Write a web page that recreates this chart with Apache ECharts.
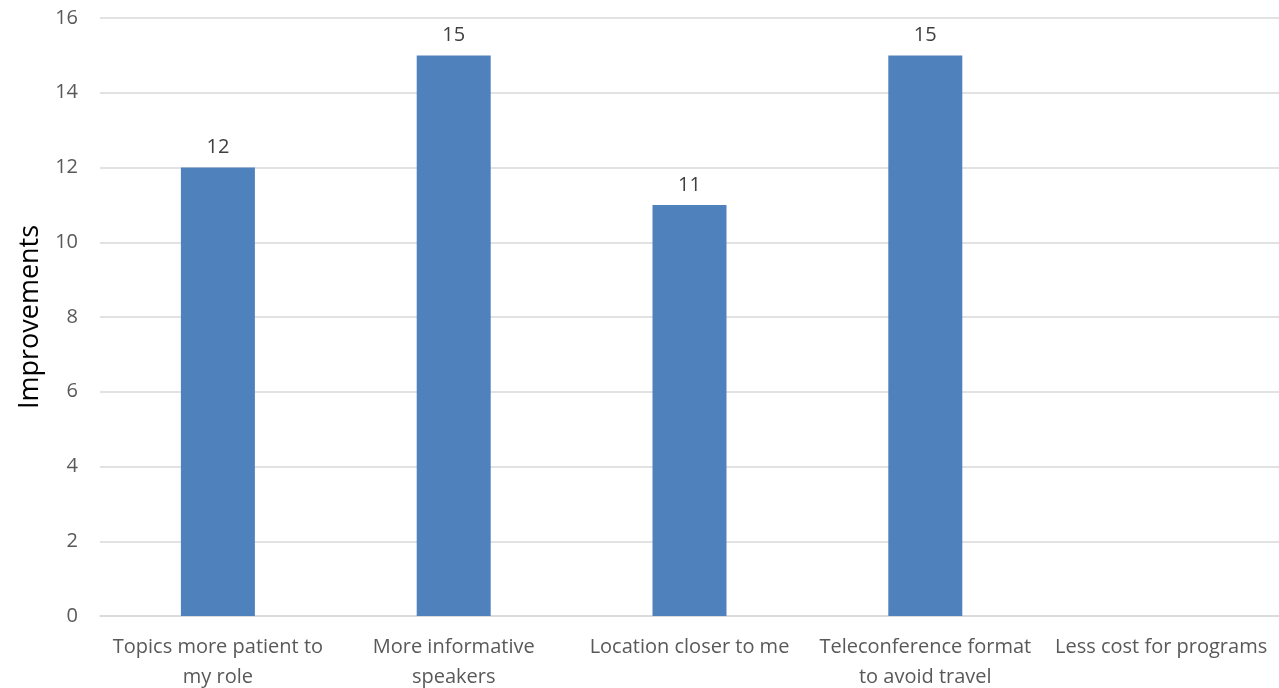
<!DOCTYPE html>
<html><head><meta charset="utf-8">
<script src="https://cdn.jsdelivr.net/npm/echarts@6/dist/echarts.min.js"></script>
<style>html,body{margin:0;padding:0;background:#fff}#c{width:1279px;height:688px}</style>
</head><body><div id="c"></div>
<script>
const categories = ["Topics more patient to\nmy role", "More informative\nspeakers", "Location closer to me", "Teleconference format\nto avoid travel", "Less cost for programs"];
const values = [12, 15, 11, 15, 0];
const yTicks = [0, 2, 4, 6, 8, 10, 12, 14, 16];
const font = "'Open Sans', sans-serif";
const chart = echarts.init(document.getElementById('c'));
chart.setOption({
  animation: false,
  grid: {left: 100, right: 0, top: 18, bottom: 72, containLabel: false, outerBoundsMode: 'none'},
  xAxis: {
    type: 'category', data: categories,
    axisLine: {lineStyle: {color: '#d9d9d9', width: 1.5}},
    axisTick: {show: false},
    axisLabel: {color: '#595959', fontSize: 20, fontFamily: font, margin: 16, lineHeight: 30, interval: 0}
  },
  yAxis: {
    type: 'value', min: yTicks[0], max: yTicks[yTicks.length - 1], interval: 2,
    name: 'Improvements', nameLocation: 'middle', nameGap: 51, nameRotate: 90,
    nameTextStyle: {color: '#000', fontSize: 27, fontFamily: font},
    axisLine: {show: false}, axisTick: {show: false},
    axisLabel: {color: '#595959', fontSize: 20, fontFamily: font, margin: 22},
    splitLine: {lineStyle: {color: '#d9d9d9', width: 1.5}}
  },
  series: [{
    type: 'bar', data: values, barWidth: 74,
    itemStyle: {color: '#4f81bd'},
    label: {show: true, position: 'top', distance: 10, color: '#404040', fontSize: 20, fontFamily: font,
      formatter: p => p.value === 0 ? '' : String(p.value)}
  }]
});
</script></body></html>
